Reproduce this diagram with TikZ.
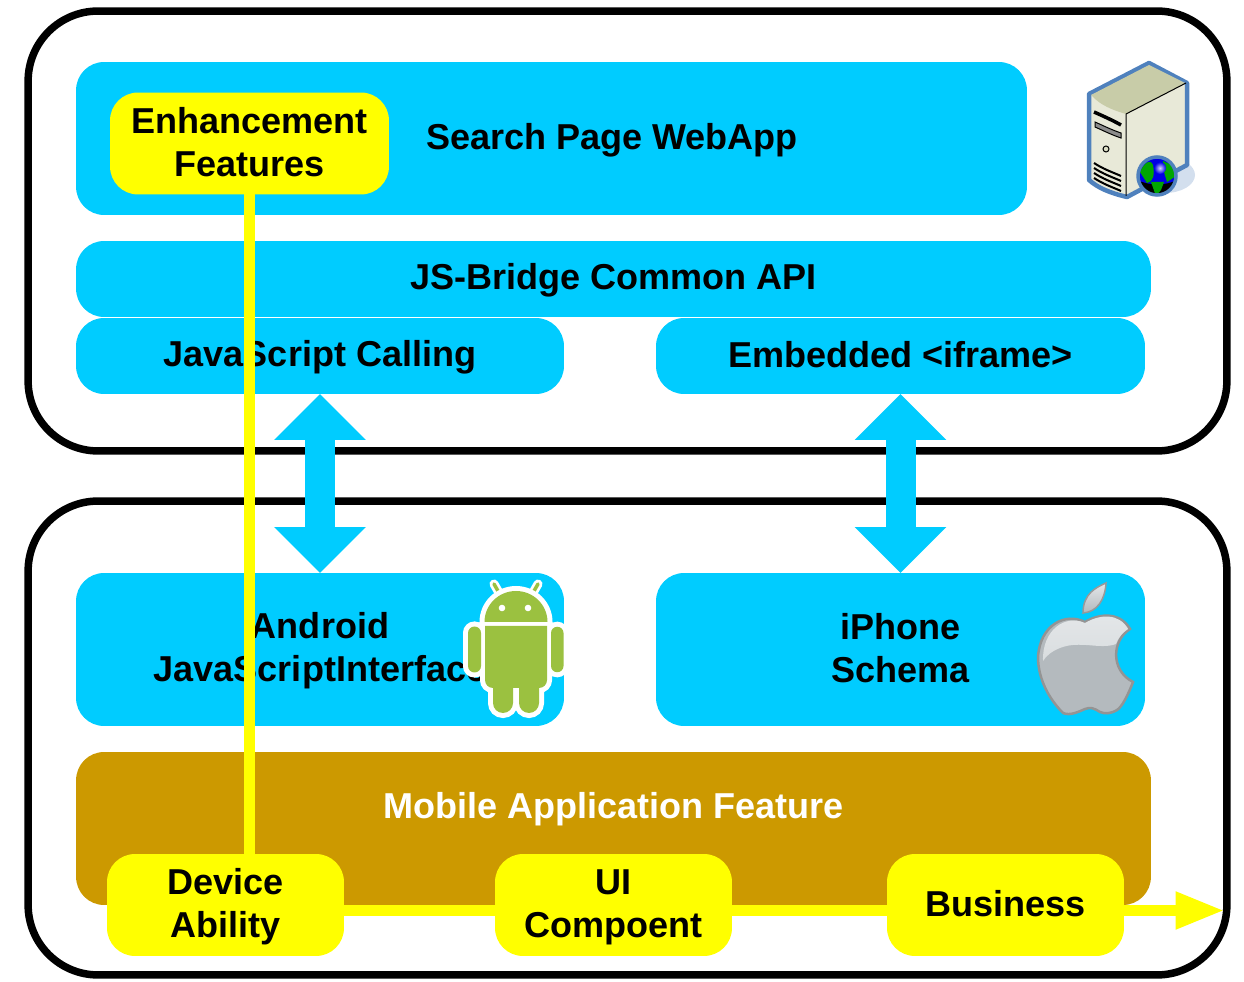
\documentclass[tikz,border=0pt]{standalone}
\usepackage{fontspec}
\setmainfont{Liberation Sans}
\usetikzlibrary{arrows.meta}
\definecolor{tierblue}{HTML}{00CCFF}
\definecolor{tierbrown}{HTML}{CC9900}
\definecolor{flowyellow}{HTML}{FFFF00}
\definecolor{droidgreen}{HTML}{9BC140}
\definecolor{rackblue}{HTML}{4F81BD}
\definecolor{racktop}{HTML}{C8CCA8}
\definecolor{rackface}{HTML}{E8E9D8}
\definecolor{applelight}{HTML}{E4E7E9}
\definecolor{applemid}{HTML}{D9DDDF}
\definecolor{appledark}{HTML}{B4BABE}
\newcommand{\tline}{\rule[-3pt]{0pt}{19.5pt}}
\def\droidparts{(484.5,622) arc (180:360:31.5 and 31) -- cycle
  (485,626) -- (547,626) -- (547,680) arc (0:90:8) -- (539,703) arc (0:180:10) -- (519,688) -- (513,688) -- (513,703) arc (0:180:10)
  -- (493,688) arc (90:180:8) -- cycle
  (468,633) arc (180:360:6.5) -- (481,666) arc (0:180:6.5) -- cycle
  (551,633) arc (180:360:6.25) -- (563.5,666) arc (0:180:6.25) -- cycle}
\tikzset{
  box/.style={inner sep=0pt,outer sep=0pt,align=center,font=\bfseries\fontsize{20.5}{24.5}\selectfont},
  panel/.style={box,fill=tierblue,rounded corners=0.56cm},
  feature/.style={box,fill=flowyellow,rounded corners=0.56cm,minimum width=4.74cm,minimum height=2.04cm},
  tierframe/.style={draw=black,line width=0.15cm,rounded corners=1.4cm,minimum width=23.98cm,outer sep=0pt},
  link/.style={tierblue,line width=0.6cm,{Triangle[length=0.92cm,width=1.78cm]}-{Triangle[length=0.92cm,width=1.78cm]}},
  flow/.style={flowyellow,line width=0.22cm},
  flowhead/.style={flow,-{Triangle[length=0.98cm,width=0.7cm]}}
}
\begin{document}
\begin{tikzpicture}[x=0.02cm,y=-0.02cm]
\useasboundingbox (0,0) rectangle (1244,982);
\node[tierframe,minimum height=8.8cm] (webtier) at (627.5,231) {};
\node[tierframe,minimum height=9.48cm] (apptier) at (627.5,738) {};

\node[panel,minimum width=19.02cm,minimum height=3.06cm] (webapp) at (551.5,138.5) {};
\node[box] (webapptext) at (612,139) {\tline Search Page WebApp};
\node[panel,minimum width=21.5cm,minimum height=1.52cm] (bridge) at (613.5,279) {\tline JS-Bridge Common API};
\node[panel,minimum width=9.76cm,minimum height=1.52cm] (jscall) at (320,356) {\tline JavaScript Calling};
\node[panel,minimum width=9.78cm,minimum height=1.52cm] (iframe) at (900.5,356) {\tline Embedded <iframe>};
\node[panel,minimum width=9.76cm,minimum height=3.06cm] (android) at (320,649.5) {\tline Android\\\tline JavaScriptInterface};
\node[panel,minimum width=9.78cm,minimum height=3.06cm] (iphone) at (900.5,649.5) {\tline iPhone\\\tline Schema};
\node[panel,fill=tierbrown,minimum width=21.5cm,minimum height=3.06cm] (mobile) at (613.5,828.5) {};
\node[box,text=white] (mobiletext) at (613.5,808) {\tline Mobile Application Feature};

\draw[link] (jscall.south) -- (android.north);
\draw[link] (iframe.south) -- (iphone.north);

\fill[fill=rackblue!25] (1165,175) ellipse [x radius=30,y radius=18];
\draw[draw=rackblue,line width=0.09cm,fill=rackface,line join=round] (1089,94) -- (1149,63) -- (1187,83) -- (1187,165) -- (1127,197) .. controls (1110,193) and (1098,188) .. (1089,180) -- cycle;
\fill[racktop] (1091,95) -- (1149,65) -- (1185,83) -- (1126,114) .. controls (1112,110) and (1100,105) .. (1091,95) -- cycle;
\draw[line width=0.02cm] (1126,114) -- (1186,83) (1126,114) -- (1126,196);
\draw[line width=0.07cm] (1094,112) .. controls (1103,116) and (1112,120) .. (1121,125);
\draw[line width=0.02cm,fill=black!45] (1095,122) .. controls (1104,126) and (1112,130) .. (1121,133) -- (1121,138) .. controls (1112,135) and (1104,131) .. (1095,127) -- cycle;
\draw[line width=0.02cm,fill=rackface!60!racktop] (1106,149) circle (3);
\foreach \y in {0,5,10,15}
  \draw[line width=0.04cm] (1094,\y+163) .. controls (1103,\y+169) and (1112,\y+172) .. (1121,\y+176);
\begin{scope}
\clip (1157,176) circle (19);
\fill[blue!90!black] (1157,176) circle (19);
\fill[black] (1137,180) .. controls (1150,186) and (1165,186) .. (1177,180) -- (1177,198) -- (1137,198) -- cycle;
\fill[green!65!black] (1140,172) .. controls (1145,160) and (1152,160) .. (1153,165) .. controls (1155,175) and (1153,182) .. (1147,183) -- cycle;
\fill[green!65!black] (1163,161) -- (1172,165) -- (1176,176) -- (1167,182) -- (1164,172) -- cycle;
\fill[green!65!black] (1151,182) -- (1164,182) -- (1161,190) -- (1156,196) -- cycle;
\shade[inner color=white!85!blue,outer color=blue!90!black] (1160,168) circle (6);
\end{scope}
\draw[draw=rackblue,line width=0.07cm] (1157,176) circle (19);

\draw[white,line width=0.18cm,line cap=round] (494,584) -- (502,598) (538,584) -- (530,598);
\draw[droidgreen,line width=0.07cm,line cap=round] (494,584) -- (502,598) (538,584) -- (530,598);
\path[fill=droidgreen,draw=white,line width=0.2cm] \droidparts;
\path[fill=droidgreen] \droidparts;
\fill[white] (502,608) circle (3.3) (528,608) circle (3.3);

\shade[top color=applelight,bottom color=appledark,draw=black!40,line width=0.03cm] (1083,613) .. controls (1083,593) and (1097,587) .. (1106,583) .. controls (1105,600) and (1097,612) .. (1083,613) -- cycle;
\shade[left color=appledark,middle color=applemid,right color=appledark,draw=black!42,line width=0.05cm] (1085,622) .. controls (1100,613) and (1120,612) .. (1130,629) .. controls (1112,640) and (1110,670) .. (1133,682) .. controls (1128,695) and (1122,707) .. (1117,710) .. controls (1110,714) and (1105,714) .. (1100,712) .. controls (1094,708) and (1090,707) .. (1085,709) .. controls (1078,712) and (1070,716) .. (1063,713) .. controls (1050,700) and (1038,680) .. (1038,657) .. controls (1040,625) and (1065,612) .. (1085,622) -- cycle;
\shade[top color=applelight,bottom color=applemid] (1085,623) .. controls (1100,614) and (1119,613) .. (1128,629) .. controls (1122,633) and (1118,638) .. (1116,644) .. controls (1100,650) and (1080,640) .. (1060,648) .. controls (1052,651) and (1046,656) .. (1043,661) .. controls (1042,630) and (1065,614) .. (1085,623) -- cycle;

\coordinate (flowend) at (1224.5,910.5);
\node[feature,minimum width=5.58cm] (enhance) at (249.5,143.5) {\tline Enhancement\\\tline Features};
\node[feature] (device) at (225.5,905) {\tline Device\\\tline Ability};
\node[feature] (uipart) at (613.5,905) {\tline UI\\\tline Compoent};
\node[feature] (business) at (1005.5,905) {\tline Business};
\draw[flow] (enhance.south) -- (enhance.south |- device.north);
\draw[flow] (device.east |- flowend) -- (uipart.west |- flowend);
\draw[flow] (uipart.east |- flowend) -- (business.west |- flowend);
\draw[flowhead] (business.east |- flowend) -- (flowend);
\end{tikzpicture}
\end{document}
